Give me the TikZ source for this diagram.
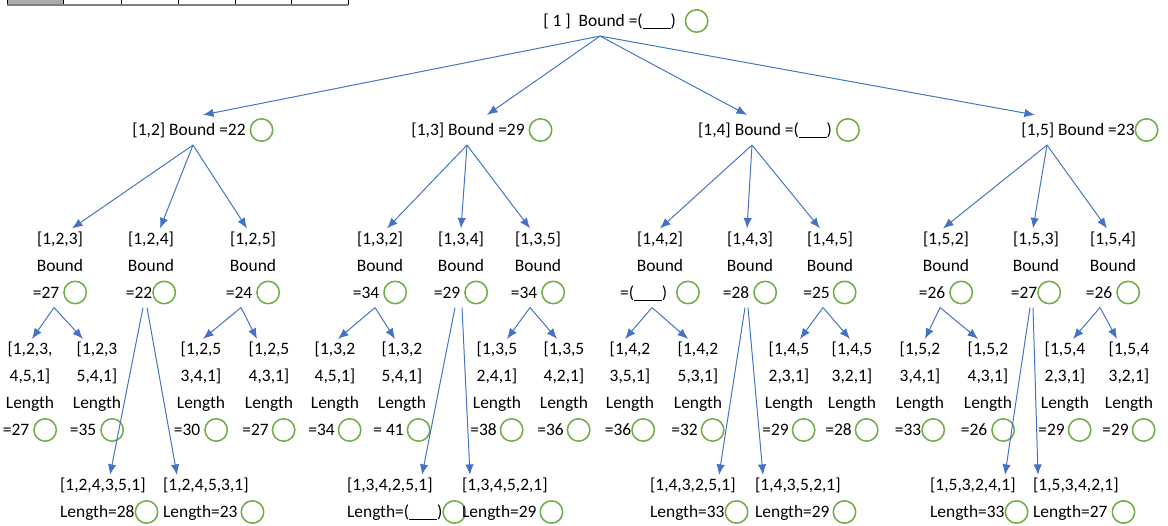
\documentclass[tikz,border=0pt]{standalone}
\usepackage{fontspec}
\setmainfont{Carlito}
\usetikzlibrary{arrows.meta,calc}
\definecolor{arrowblue}{HTML}{4472C4}
\definecolor{okgreen}{HTML}{70AD47}
\definecolor{cellgray}{HTML}{AEAAAA}
% empty check circle after a value, and a blank to fill in
\newcommand{\okmark}{\tikz[baseline=-0.68ex]\draw[okgreen,line width=1.1pt] (0,0) circle (0.28cm);}
\newcommand{\blank}{\rule[-0.15em]{1.6em}{0.06em}}
\tikzset{
  lbl/.style={font=\fontsize{12.4}{19.2}\selectfont, inner sep=2pt, align=center},
  leaf/.style={lbl, align=left, anchor=west},
  arr/.style={arrowblue, line width=0.7pt, -{Latex[length=7.5pt,width=6pt]}}
}
\begin{document}
\begin{tikzpicture}[x=0.025cm,y=-0.025cm]
\useasboundingbox (0,0) rectangle (1168,525);

% Tabla arriba a la izquierda
\fill[cellgray] (7,-6) rectangle (63,5);
\draw[line width=0.6pt] (7,-6) -- (7,5) (63,-6) -- (63,5) (121,-6) -- (121,5) (178,-6) -- (178,5)
  (235,-6) -- (235,5) (291,-6) -- (291,5) (348,-6) -- (348,5);
\draw[gray, line width=1.4pt] (7,5) -- (348,5);

% Raiz
\node[lbl] (root) at (626,21) {[ 1 ]\ \ Bound =(\blank)\enspace\okmark};

% Nivel 2
\node[lbl] (n12) at (203,130) {[1,2] Bound =22\ \okmark};
\node[lbl] (n13) at (482,130) {[1,3] Bound =29\ \okmark};
\node[lbl] (n14) at (779,130) {[1,4] Bound =(\blank)\ \okmark};
\node[lbl] (n15) at (1090,130) {[1,5] Bound =23\okmark};

% Nivel 3
\node[lbl] (n123) at (60,268) {[1,2,3]\\Bound\\=27\ \okmark};
\node[lbl] (n124) at (151,268) {[1,2,4]\\Bound\\=22\okmark};
\node[lbl] (n125) at (253,268) {[1,2,5]\\Bound\\=24\ \okmark};
\node[lbl] (n132) at (380,268) {[1,3,2]\\Bound\\=34\ \okmark};
\node[lbl] (n134) at (461,268) {[1,3,4]\\Bound\\=29\ \okmark};
\node[lbl] (n135) at (538,268) {[1,3,5]\\Bound\\=34\ \okmark};
\node[lbl] (n142) at (660,268) {[1,4,2]\\Bound\\=(\blank)\enspace\okmark};
\node[lbl] (n143) at (750,268) {[1,4,3]\\Bound\\=28\ \okmark};
\node[lbl] (n145) at (830,268) {[1,4,5]\\Bound\\=25\,\okmark};
\node[lbl] (n152) at (946,268) {[1,5,2]\\Bound\\=26\ \okmark};
\node[lbl] (n153) at (1036,268) {[1,5,3]\\Bound\\=27\okmark};
\node[lbl] (n154) at (1113,268) {[1,5,4]\\Bound\\=26\ \okmark};

% Nivel 4
\node[lbl] (n12345) at (30,392) {[1,2,3,\\4,5,1]\\Length\\=27\ \okmark};
\node[lbl] (n12354) at (97,392) {[1,2,3\\5,4,1]\\Length\\=35\ \okmark};
\node[lbl] (n12534) at (201,392) {[1,2,5\\3,4,1]\\Length\\=30\ \okmark};
\node[lbl] (n12543) at (269,392) {[1,2,5\\4,3,1]\\Length\\=27\,\okmark};
\node[lbl] (n13245) at (335,392) {[1,3,2\\4,5,1]\\Length\\=34\,\okmark};
\node[lbl] (n13254) at (402,392) {[1,3,2\\5,4,1]\\Length\\= 41\,\okmark};
\node[lbl] (n13524) at (497,392) {[1,3,5\\2,4,1]\\Length\\=38\,\okmark};
\node[lbl] (n13542) at (564,392) {[1,3,5\\4,2,1]\\Length\\=36\,\okmark};
\node[lbl] (n14235) at (630,392) {[1,4,2\\3,5,1]\\Length\\=36\okmark};
\node[lbl] (n14253) at (698,392) {[1,4,2\\5,3,1]\\Length\\=32\,\okmark};
\node[lbl] (n14523) at (789,392) {[1,4,5\\2,3,1]\\Length\\=29\,\okmark};
\node[lbl] (n14532) at (852,392) {[1,4,5\\3,2,1]\\Length\\=28\,\okmark};
\node[lbl] (n15234) at (920,392) {[1,5,2\\3,4,1]\\Length\\=33\okmark};
\node[lbl] (n15243) at (988,392) {[1,5,2\\4,3,1]\\Length\\=26\ \okmark};
\node[lbl] (n15423) at (1065,392) {[1,5,4\\2,3,1]\\Length\\=29\,\okmark};
\node[lbl] (n15432) at (1129,392) {[1,5,4\\3,2,1]\\Length\\=29\,\okmark};

% Nivel 5 (hojas)
\node[leaf] (n124351) at (57,501) {[1,2,4,3,5,1]\\Length=28\okmark};
\node[leaf] (n124531) at (160,501) {[1,2,4,5,3,1]\\Length=23\,\okmark};
\node[leaf] (n134251) at (344,501) {[1,3,4,2,5,1]\\Length=(\blank)\okmark};
\node[leaf] (n134521) at (459,501) {[1,3,4,5,2,1]\\Length=29\,\okmark};
\node[leaf] (n143251) at (647,501) {[1,4,3,2,5,1]\\Length=33\okmark};
\node[leaf] (n143521) at (752,501) {[1,4,3,5,2,1]\\Length=29\,\okmark};
\node[leaf] (n153241) at (927,501) {[1,5,3,2,4,1]\\Length=33\okmark};
\node[leaf] (n153421) at (1030,501) {[1,5,3,4,2,1]\\Length=27\ \okmark};

% Flechas raiz -> nivel 2
\draw[arr] ($(root.south)+(-26,0)$) -- (n12.north);
\draw[arr] ($(root.south)+(-26,0)$) -- ($(n13.north)+(5,0)$);
\draw[arr] ($(root.south)+(-26,0)$) -- ($(n14.north)+(-32,0)$);
\draw[arr] ($(root.south)+(-26,0)$) -- ($(n15.north)+(-55,0)$);

% Flechas nivel 2 -> nivel 3
\draw[arr] ($(n12.south)+(-10,0)$) -- ($(n123.north)+(12,0)$);
\draw[arr] ($(n12.south)+(-10,0)$) -- ($(n124.north)+(9,0)$);
\draw[arr] ($(n12.south)+(-10,0)$) -- ($(n125.north)+(-6,0)$);
\draw[arr] ($(n13.south)+(-15,0)$) -- ($(n132.north)+(7,0)$);
\draw[arr] ($(n13.south)+(-15,0)$) -- (n134.north);
\draw[arr] ($(n13.south)+(-15,0)$) -- ($(n135.north)+(-8,0)$);
\draw[arr] ($(n14.south)+(-27,0)$) -- (n142.north);
\draw[arr] ($(n14.south)+(-27,0)$) -- ($(n143.north)+(-3,0)$);
\draw[arr] ($(n14.south)+(-27,0)$) -- ($(n145.north)+(-10,0)$);
\draw[arr] ($(n15.south)+(-43,0)$) -- ($(n152.north)+(-3,0)$);
\draw[arr] ($(n15.south)+(-43,0)$) -- ($(n153.north)+(-3,0)$);
\draw[arr] ($(n15.south)+(-43,0)$) -- ($(n154.north)+(-6,0)$);

% Flechas nivel 3 -> nivel 4
\draw[arr] ($(n123.south)+(-6,0)$) -- ($(n12345.north)+(2,0)$);
\draw[arr] ($(n123.south)+(-6,0)$) -- ($(n12354.north)+(-14,0)$);
\draw[arr] ($(n125.south)+(-12,0)$) -- ($(n12534.north)+(2,0)$);
\draw[arr] ($(n125.south)+(-12,0)$) -- ($(n12543.north)+(-12,0)$);
\draw[arr] ($(n132.south)+(-5,0)$) -- ($(n13245.north)+(3,0)$);
\draw[arr] ($(n132.south)+(-5,0)$) -- ($(n13254.north)+(-7,0)$);
\draw[arr] ($(n135.south)+(-8,0)$) -- ($(n13524.north)+(10,0)$);
\draw[arr] ($(n135.south)+(-8,0)$) -- ($(n13542.north)+(-7,0)$);
\draw[arr] ($(n142.south)+(-8,0)$) -- ($(n14235.north)+(-5,0)$);
\draw[arr] ($(n142.south)+(-8,0)$) -- ($(n14253.north)+(-10,0)$);
\draw[arr] ($(n145.south)+(-7,0)$) -- ($(n14523.north)+(11,0)$);
\draw[arr] ($(n145.south)+(-7,0)$) -- ($(n14532.north)+(-2,0)$);
\draw[arr] ($(n152.south)+(-6,0)$) -- ($(n15234.north)+(5,0)$);
\draw[arr] ($(n152.south)+(-6,0)$) -- ($(n15243.north)+(-10,0)$);
\draw[arr] ($(n154.south)+(-13,0)$) -- ($(n15423.north)+(8,0)$);
\draw[arr] ($(n154.south)+(-13,0)$) -- ($(n15432.north)+(-12,0)$);

% Flechas nivel 3 -> nivel 5
\draw[arr] ($(n124.south)+(-8,0)$) -- ($(n124351.north west)+(53,0)$);
\draw[arr] ($(n124.south)+(-4,0)$) -- ($(n124531.north west)+(17,0)$);
\draw[arr] ($(n134.south)+(-6,0)$) -- ($(n134251.north west)+(78,0)$);
\draw[arr] ($(n134.south)+(1,0)$) -- ($(n134521.north west)+(11,0)$);
\draw[arr] ($(n143.south)+(-5,0)$) -- ($(n143251.north west)+(72,0)$);
\draw[arr] ($(n143.south)+(-2,0)$) -- ($(n143521.north west)+(11,0)$);
\draw[arr] ($(n153.south)+(-6,0)$) -- ($(n153241.north west)+(78,0)$);
\draw[arr] ($(n153.south)+(-3,0)$) -- ($(n153421.north west)+(8,0)$);
\end{tikzpicture}
\end{document}
